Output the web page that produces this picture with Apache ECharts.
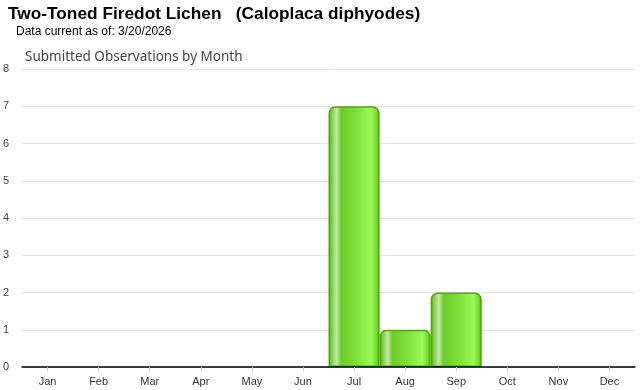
<!DOCTYPE html>
<html><head><meta charset="utf-8">
<script src="https://cdn.jsdelivr.net/npm/echarts@6/dist/echarts.min.js"></script>
<style>html,body{margin:0;padding:0;background:#fff}#c{width:640px;height:390px}</style>
</head><body><div id="c"></div>
<script>
const titleText = 'Two-Toned Firedot Lichen   (Caloplaca diphyodes)';
const subtitleText = 'Data current as of: 3/20/2026';
const chartTitle = 'Submitted Observations by Month';
const months = ['Jan','Feb','Mar','Apr','May','Jun','Jul','Aug','Sep','Oct','Nov','Dec'];
const observations = [0,0,0,0,0,0,7,1,2,0,0,0];
const yTicks = [0,1,2,3,4,5,6,7,8];

const chart = echarts.init(document.getElementById('c'));
const grad = new echarts.graphic.LinearGradient(0,0,1,0,[
  {offset:0, color:'#4fae08'},
  {offset:0.06, color:'#7fcc48'},
  {offset:0.16, color:'#c8e8ac'},
  {offset:0.25, color:'#6ccc28'},
  {offset:0.55, color:'#7ee03a'},
  {offset:0.84, color:'#9cfa58'},
  {offset:0.94, color:'#78d834'},
  {offset:1, color:'#4fae08'}
]);
chart.setOption({
  animation:false,
  title:[
    {text:titleText, left:8, top:6, padding:0, textStyle:{fontFamily:'Liberation Sans, Arial', fontSize:17.3, fontWeight:'bold', color:'#000'}},
    {text:subtitleText, left:16, top:26, padding:0, textStyle:{fontFamily:'Liberation Sans, Arial', fontSize:12, fontWeight:'normal', color:'#000'}},
    {text:chartTitle, left:25, top:50, padding:0, textStyle:{fontFamily:'Noto Sans', fontSize:13.5, fontWeight:'normal', color:'#444'}}
  ],
  grid:{left:17, right:5, top:69, bottom:23, containLabel:false},
  xAxis:{type:'category', data:months, z:10,
    axisLine:{lineStyle:{color:'#000', width:1.5}},
    axisTick:{show:true, alignWithLabel:true, length:4, lineStyle:{color:'#ccc'}},
    axisLabel:{color:'#333', fontFamily:'Liberation Sans, Arial', fontSize:11, margin:9}
  },
  yAxis:{type:'value', min:yTicks[0], max:yTicks[yTicks.length-1], interval:1,
    axisLine:{show:false}, axisTick:{show:false},
    axisLabel:{color:'#444', fontFamily:'Liberation Sans, Arial', fontSize:11, margin:6, align:'left', padding:[0,0,0,-13]},
    splitLine:{lineStyle:{color:'#e3e3e3'}}
  },
  series:[{type:'bar', data:observations.map(v => v === 0 ? '-' : v), barCategoryGap:'0%',
    itemStyle:{color:grad, borderColor:'#4aad00', borderWidth:1.5, borderRadius:[6,6,0,0]}
  }]
});
</script></body></html>
